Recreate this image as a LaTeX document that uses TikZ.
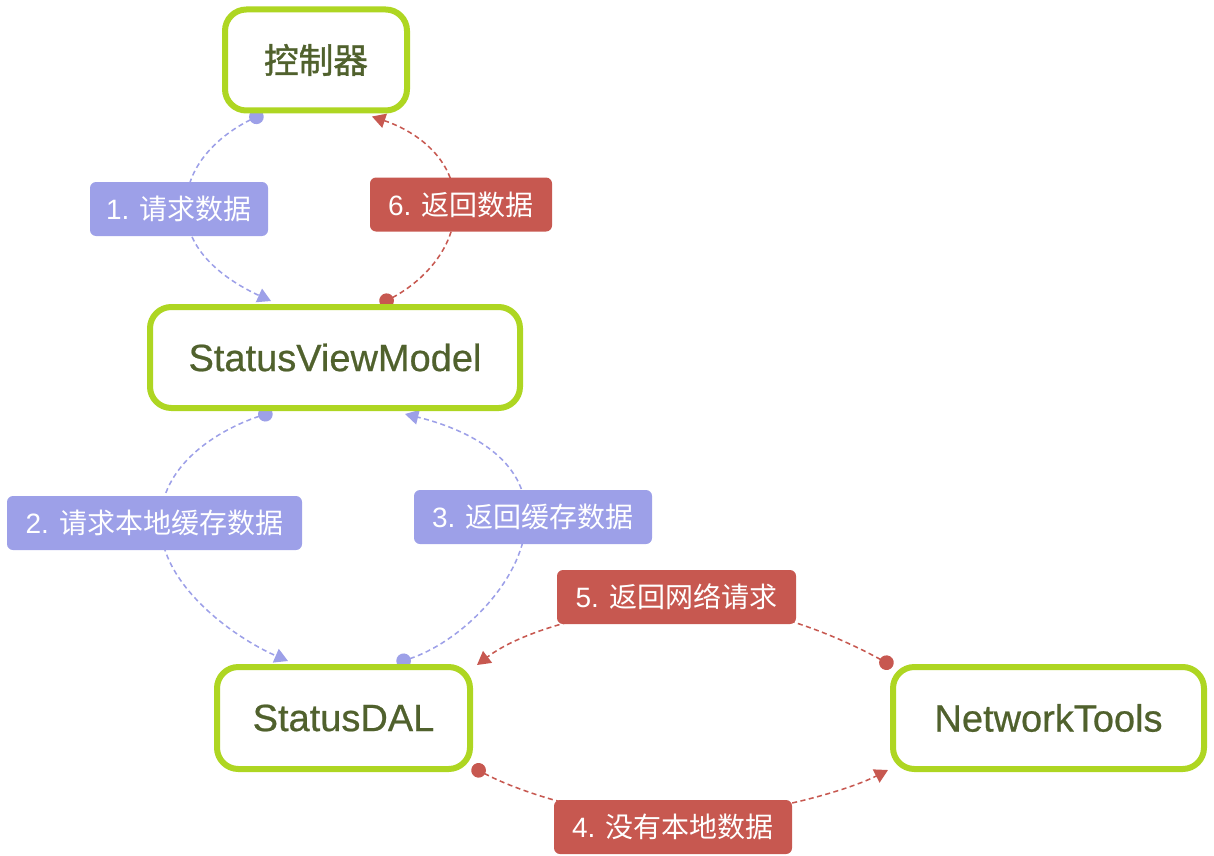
\documentclass[tikz,border=0pt]{standalone}
\usepackage{fontspec}
\setmainfont{Liberation Sans}
\newfontfamily\titlefont{Liberation Sans}[FakeBold=0.6]
\newfontfamily\cjk{Noto Sans CJK SC}
\newfontfamily\cjktitle{Noto Sans CJK SC}[FakeBold=1.2]
\usetikzlibrary{arrows.meta,calc}
\definecolor{grn}{RGB}{174,214,34}
\definecolor{olive}{RGB}{80,97,45}
\definecolor{lblue}{RGB}{157,160,232}
\definecolor{lred}{RGB}{199,88,80}
\pgfdeclarelayer{bg}
\pgfsetlayers{bg,main}
\tikzset{
  box/.style={draw=grn, line width=4.5pt, rounded corners=16pt, fill=white,
    text=olive, inner sep=0pt, font=\titlefont\fontsize{28.5}{32}\selectfont},
  lbl/.style={rounded corners=4.5pt, text=white, inner sep=0pt,
    minimum height=40.5pt, font=\fontsize{21}{25}\selectfont},
  bl/.style={lbl, fill=lblue},
  rd/.style={lbl, fill=lred},
  conn/.style={line width=1.15pt, dash pattern=on 3.8pt off 2.6pt,
    {Circle[length=11pt,width=11pt,sep=-5pt]}-{Triangle[length=10pt,width=11pt]}},
  cb/.style={conn, draw=lblue},
  cr/.style={conn, draw=lred}
}
\begin{document}
\begin{tikzpicture}[x=0.75pt,y=-0.75pt]
\useasboundingbox (0,0) rectangle (1214,856);
% main nodes
\node[box, minimum width=136.5pt, minimum height=75.75pt] (ctl) at (316,60) {\cjktitle\fontsize{26}{30}\selectfont 控制器};
\node[box, minimum width=277.5pt, minimum height=75.75pt] (svm) at (335,357.5) {StatusViewModel};
\node[box, minimum width=189.75pt, minimum height=76.5pt] (dal) at (343.5,718) {StatusDAL};
\node[box, minimum width=233.25pt, minimum height=76.5pt] (nt) at (1048.5,718) {NetworkTools};
% labels
\node[bl, minimum width=133.5pt] (l1) at (179,209) {1. {\cjk 请求数据}};
\node[rd, minimum width=136.5pt] (l6) at (461,204.5) {6. {\cjk 返回数据}};
\node[bl, minimum width=221.25pt] (l2) at (154.5,523) {2. {\cjk 请求本地缓存数据}};
\node[bl, minimum width=178.5pt] (l3) at (533,517) {3. {\cjk 返回缓存数据}};
\node[rd, minimum width=179.25pt] (l5) at (676.5,597) {5. {\cjk 返回网络请求}};
\node[rd, minimum width=178.5pt] (l4) at (673,827) {4. {\cjk 没有本地数据}};
% connectors
\begin{pgfonlayer}{bg}
\draw[cb] ($(ctl.south)+(-59,3)$) .. controls (220,135) and (185,165) .. ($(l1.center)+(7,0)$)
  .. controls (186,255) and (232,283) .. ($(svm.north)+(-64,-3)$);
\draw[cr] ($(svm.north)+(51,-3)$) .. controls (420,283) and (456,250) .. ($(l6.center)+(-6,0)$)
  .. controls (455,160) and (418,132) .. ($(ctl.south)+(56,3)$);
\draw[cb] ($(svm.south)+(-69,3)$) .. controls (218,430) and (160,465) .. ($(l2.center)+(6,0)$)
  .. controls (160,585) and (235,638) .. ($(dal.north)+(-55.5,-3)$);
\draw[cb] ($(dal.north)+(59.5,-3)$) .. controls (465,640) and (527,575) .. ($(l3.center)+(-7,0)$)
  .. controls (527,460) and (470,430) .. ($(svm.south)+(70,3)$);
\draw[cr] ($(nt.north west)+(-3,-1)$) .. controls (845,640) and (760,600) .. ($(l5.center)+(0,8)$)
  .. controls (594,610) and (520,632) .. ($(dal.north east)+(4,1)$);
\draw[cr] ($(dal.south east)+(5,-2)$) .. controls (515,790) and (595,818) .. ($(l4.center)+(0,-9)$)
  .. controls (751,818) and (845,792) .. ($(nt.south west)+(-2,-2)$);
\end{pgfonlayer}
\end{tikzpicture}
\end{document}
